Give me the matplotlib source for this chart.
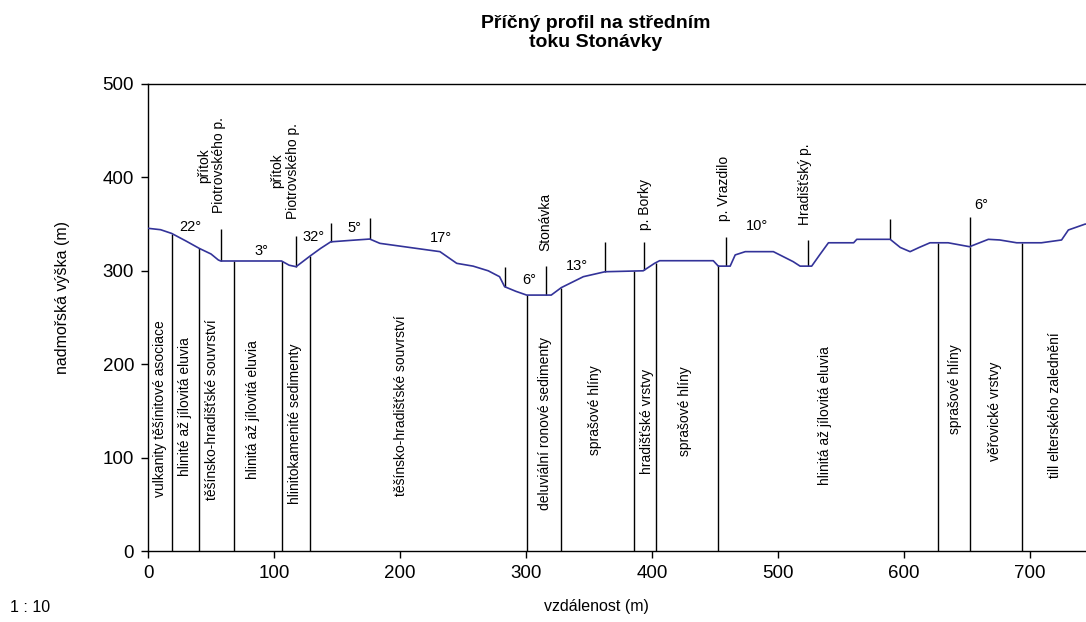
import matplotlib
matplotlib.use("Agg")
import matplotlib.pyplot as plt
import numpy as np

plt.rcParams['font.family'] = ['Liberation Sans', 'DejaVu Sans']

# profile (distance m, elevation m)
profile_x = [0, 10, 18.8, 30, 40.7, 50, 55.8, 57.7, 106, 112, 117.5, 122, 128.6, 137, 145,
             160, 176, 184, 231.7, 245, 258, 270, 279, 283, 292, 300.5, 320, 324, 328,
             345.5, 362.7, 393, 402, 406, 448.6, 452.6, 462, 466, 474, 496.3, 512, 517.5,
             526.7, 533, 540, 560, 562.5, 589, 597, 604.8, 612, 620.6, 635, 652, 666.9,
             676, 689.4, 709, 725, 730.4, 743.7, 745]
profile_y = [345.5, 344, 340, 332, 324, 318, 311.6, 310.5, 310.5, 306, 304.4, 309, 315.8, 324, 331,
             332.5, 334, 329.4, 320.5, 308, 305, 300, 293.7, 283, 278, 274, 274, 278, 282,
             293.7, 299, 300, 308, 310.8, 310.8, 305, 305, 317, 320.5, 320.5, 309.8, 305,
             305, 317, 330, 330, 333.7, 333.7, 325, 320.5, 325, 330, 330, 325.8, 333.7,
             333, 330, 330, 333, 343.7, 350, 350]

# geological boundaries (lines from 0 up to the profile)
boundary_x = [19.3, 40.7, 68.5, 106, 128.6, 301, 328, 385.7, 402.9, 452, 626.7, 652.4, 694]

# markers above the profile (x, top elevation)
marker_x = [57.7, 117.5, 145, 176, 283, 316, 362.7, 393.6, 458.7, 523.6, 589, 652.4]
marker_top = [344.5, 337, 351, 356, 304, 305, 331, 331, 336.5, 333, 355, 358]

# geology labels
geo_labels = ["vulkanity těšínitové asociace", "hlinité až jílovitá eluvia",
              "těšínsko-hradišťské souvrství", "hlinitá až jílovitá eluvia",
              "hlinitokamenité sedimenty", "těšínsko-hradišťské souvrství",
              "deluviální ronové sedimenty", "sprašové hlíny", "hradišťské vrstvy",
              "sprašové hlíny", "hlinitá až jílovitá eluvia", "sprašové hlíny",
              "věřovické vrstvy", "till elterského zalednění"]
geo_x = [9.5, 29.4, 50.5, 83.6, 116.7, 201, 315, 354.8, 395.8, 426, 537, 640.5, 672, 720]
geo_y = [152, 154.5, 151, 151, 136, 156, 137, 151, 139, 150, 144.7, 173, 150, 156]

# slope labels
slope_labels = ["22°", "3°", "32°", "5°", "17°", "6°", "13°", "10°", "6°"]
slope_x = [33.3, 90.2, 131.7, 163.7, 232.3, 302.6, 340.2, 483.6, 660.9]
slope_y = [347.1, 321.2, 336, 345.6, 334.8, 290, 305.6, 348.2, 370.4]

# stream labels
stream_labels = ["přítok\nPiotrovského p.", "přítok\nPiotrovského p.", "Stonávka",
                 "p. Borky", "p. Vrazdilo", "Hradišťský p."]
stream_x = [50.4, 108.7, 315.1, 394.4, 457, 521.4]
stream_y = [413, 407, 352.8, 371.5, 388, 393]

x_ticks = [0, 100, 200, 300, 400, 500, 600, 700]
y_ticks = [0, 100, 200, 300, 400, 500]

fig = plt.figure(figsize=(10.86, 6.22), dpi=100)
ax = fig.add_axes([148/1086, 71/622, 938/1086, 467/622])
ax.set_xlim(0, 744.4)
ax.set_ylim(0, 500)

ax.plot(profile_x, profile_y, color='#333399', lw=1.2, zorder=3)

bt = np.interp(boundary_x, profile_x, profile_y)
ax.vlines(boundary_x, 0, bt, color='black', lw=1.0, zorder=2)
mb = np.interp(marker_x, profile_x, profile_y)
ax.vlines(marker_x, mb, marker_top, color='black', lw=1.0, zorder=2)

for t, x, y in zip(geo_labels, geo_x, geo_y):
    ax.text(x, y, t, rotation=90, ha='center', va='center', fontsize=10)
for t, x, y in zip(slope_labels, slope_x, slope_y):
    ax.text(x, y, t, ha='center', va='center', fontsize=10.5)
for t, x, y in zip(stream_labels, stream_x, stream_y):
    ax.text(x, y, t, rotation=90, ha='center', va='center', fontsize=10,
            multialignment='center', linespacing=1.1)

ax.set_xticks(x_ticks)
ax.set_yticks(y_ticks)
ax.tick_params(direction='out', length=5, width=1, labelsize=13.5, pad=5)
ax.spines['right'].set_visible(False)
for s in ['left', 'bottom', 'top']:
    ax.spines[s].set_linewidth(1.0)

fig.text(596/1086, 1 - 33/622, "Příčný profil na středním\ntoku Stonávky", ha='center',
         va='center', fontsize=14, fontweight='bold', linespacing=1.2)
fig.text(63/1086, 1 - 297.5/622, "nadmořská výška (m)", rotation=90, ha='center',
         va='center', fontsize=11.5)
fig.text(596/1086, 1 - 607/622, "vzdálenost (m)", ha='center', va='center', fontsize=11.5)
fig.text(10/1086, 1 - 607/622, "1 : 10", ha='left', va='center', fontsize=11.5)

fig.savefig("out.png", dpi=100)
